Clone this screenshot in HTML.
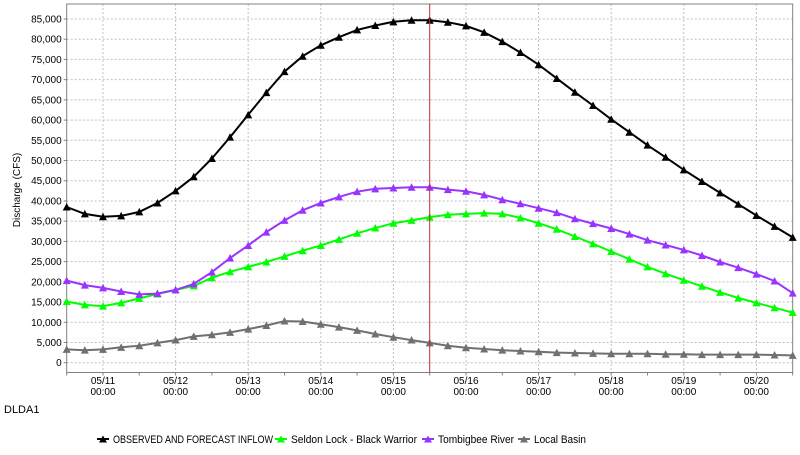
<!DOCTYPE html>
<html><head><meta charset="utf-8"><style>
body{margin:0;background:#fff;font-family:"Liberation Sans",sans-serif;}
svg text{font-family:"Liberation Sans",sans-serif;font-size:10px;fill:#000;}
</style></head><body>
<svg id="chart" width="800" height="450" xmlns="http://www.w3.org/2000/svg">
<rect width="800" height="450" fill="#fff"/>
<g id="grid"></g>
<g id="axes"></g>
<g id="series"></g>
<text x="20" y="190" transform="rotate(-90 20 190)" text-anchor="middle">Discharge (CFS)</text>
<text x="4" y="413" style="font-size:11px">DLDA1</text>
<g id="legend"></g>
</svg>
<script>
const yTicks=[0,5000,10000,15000,20000,25000,30000,35000,40000,45000,50000,55000,60000,65000,70000,75000,80000,85000];
const dayLabels=["05/11","05/12","05/13","05/14","05/15","05/16","05/17","05/18","05/19","05/20"];
const inflow=[38500,36800,36100,36300,37300,39500,42500,46000,50500,55800,61300,66800,72000,75800,78500,80500,82300,83400,84300,84700,84700,84200,83300,81700,79400,76700,73700,70300,66900,63600,60200,57000,53800,50800,47700,44800,42000,39200,36400,33700,31000];
const seldon=[15100,14300,14000,14800,15900,17000,18000,19000,21000,22500,23700,24900,26300,27700,29000,30500,32000,33300,34500,35200,36000,36600,36800,37000,36800,35800,34500,33000,31200,29400,27500,25600,23700,22000,20400,18900,17400,16000,14800,13600,12400];
const tombigbee=[20300,19200,18500,17600,16900,17100,18000,19500,22400,25900,29000,32300,35200,37700,39500,41000,42300,43000,43200,43400,43400,42800,42400,41500,40300,39300,38200,37100,35600,34400,33200,31800,30300,29100,27900,26500,24900,23500,21900,20200,17200];
const localBasin=[3300,3100,3300,3800,4200,4900,5600,6500,6900,7500,8300,9200,10300,10200,9500,8800,8000,7100,6300,5600,4900,4200,3700,3400,3100,2900,2700,2500,2400,2300,2200,2200,2200,2100,2100,2000,2000,2000,2000,1900,1800];
const seriesNames=["OBSERVED AND FORECAST INFLOW","Seldon Lock - Black Warrior","Tombigbee River","Local Basin"];

const NS="http://www.w3.org/2000/svg";
const L=66.7,R=792.7,T=4,B=372.5;
const stepX=(R-L)/40;
function xPos(i){return L+i*stepX;}
function yPos(v){return 362.7-v*(343.7/85000);}
function mk(tag,attrs,parent){const e=document.createElementNS(NS,tag);for(const k in attrs)e.setAttribute(k,attrs[k]);parent.appendChild(e);return e;}
const grid=document.getElementById('grid'),axes=document.getElementById('axes'),sg=document.getElementById('series'),lg=document.getElementById('legend');

yTicks.forEach(v=>{
  const y=yPos(v);
  const g=mk('line',{x1:L,x2:R,y1:y,y2:y,stroke:'#c0c0c0','stroke-dasharray':'2,2'},grid);
  
  
  const t=mk('line',{x1:L-3,x2:L,y1:y,y2:y,stroke:'#808080'},axes);
  
  
  const tx=mk('text',{x:L-5,y:y+3.5,'text-anchor':'end'},axes);
  tx.textContent=v.toLocaleString('en-US');
  
  
});
dayLabels.forEach((d,k)=>{
  const x=xPos(2+4*k);
  const g=mk('line',{x1:x,x2:x,y1:T,y2:B,stroke:'#c0c0c0','stroke-dasharray':'2,2'},grid);
  
  
  const t1=mk('text',{x:x,y:384,'text-anchor':'middle'},axes);t1.textContent=d;
  
  
  const t2=mk('text',{x:x,y:395,'text-anchor':'middle'},axes);t2.textContent="00:00";
  
  
});
for(let i=0;i<=40;i+=2){const x=xPos(i);
  const t=mk('line',{x1:x,x2:x,y1:B,y2:B+3,stroke:'#808080'},axes);
  
  }
const box=mk('rect',{x:L,y:T,width:R-L,height:B-T,fill:'none',stroke:'#808080'},axes);



const cols=['#000000','#00ff00','#9933ff','#707070'];
const data=[inflow,seldon,tombigbee,localBasin];
const order=[3,1,2,0];
order.forEach(s=>{
  const vals=data[s];
  const pts=vals.map((v,i)=>xPos(i).toFixed(1)+','+yPos(v).toFixed(1)).join(' ');
  const pl=mk('polyline',{points:pts,fill:'none',stroke:cols[s],'stroke-width':2},sg);
  
  
  vals.forEach((v,i)=>{const x=xPos(i),y=yPos(v);
    const m=mk('polygon',{points:`${x-4},${y+3.5} ${x+4},${y+3.5} ${x},${y-4}`,fill:cols[s]},sg);
    
    });
});
const vx=xPos(20);
const vl=mk('line',{x1:vx,x2:vx,y1:T,y2:B,stroke:'#c03030','stroke-width':1},sg);



const lx=[97,275,422,518];
const tw=[160,126,76,52];
seriesNames.forEach((n,s)=>{const x=lx[s],y=439;
  const g=mk('g',{},lg);
  
  
  mk('line',{x1:x,x2:x+12,y1:y,y2:y,stroke:cols[s],'stroke-width':2},g);
  mk('polygon',{points:`${x+2},${y+3.5} ${x+10},${y+3.5} ${x+6},${y-3.5}`,fill:cols[s]},g);
  const t=mk('text',{x:x+16,y:y+4,style:'font-size:11px',textLength:tw[s],lengthAdjust:'spacingAndGlyphs'},g);t.textContent=n;
});
</script>
</body></html>
